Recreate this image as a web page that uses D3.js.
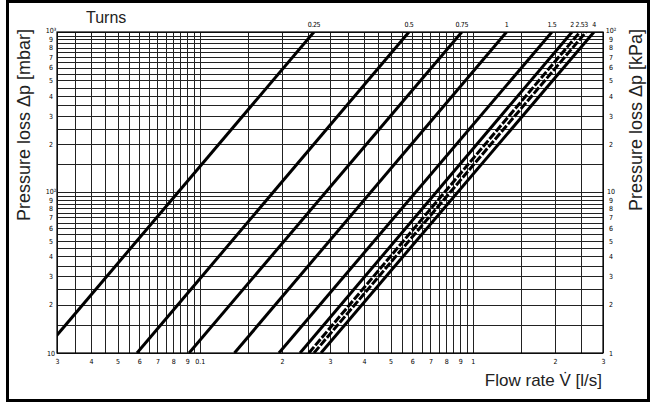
<!DOCTYPE html>
<html><head><meta charset="utf-8">
<script src="https://cdn.jsdelivr.net/npm/d3@7"></script>
<style>body{margin:0;background:#fff}</style>
</head><body>
<svg id="chart" width="651" height="403"></svg>
<script>
// ---- data ----
const turnLabels = ["0.25","0.5","0.75","1","1.5","2","2.5","3","4"];
const dashedTurns = ["2.5","3"];
const pressureEnds = [10, 1000]; // mbar, ends of each straight line
const flowAt10mbar   = [0.0264, 0.0589, 0.0914, 0.134, 0.195, 0.233, 0.251, 0.262, 0.278];
const flowAt1000mbar = [0.262, 0.584, 0.912, 1.33, 1.95, 2.31, 2.47, 2.60, 2.78];

const xTickValues = [0.03,0.04,0.05,0.06,0.07,0.08,0.09,0.1,0.2,0.3,0.4,0.5,0.6,0.7,0.8,0.9,1,2,3];
const xTickLabels = ["3","4","5","6","7","8","9","0.1","2","3","4","5","6","7","8","9","1","2","3"];
const yTickValues = [10,20,30,40,50,60,70,80,90,100,200,300,400,500,600,700,800,900,1000];
const yLeftLabels = ["10","2","3","4","5","6","7","8","9","10²","2","3","4","5","6","7","8","9","10³"];
const yRightLabels = ["1","2","3","4","5","6","7","8","9","10","2","3","4","5","6","7","8","9","10²"];
const gridMantissa = [1,1.5,2,2.5,3,3.5,4,4.5,5,5.5,6,6.5,7,7.5,8,8.5,9,9.5];

// ---- layout ----
const svg = d3.select("#chart");
const L = 57, R = 603, T = 32, B = 353;
const x = d3.scaleLog().domain([0.03, 3]).range([L, R]);
const y = d3.scaleLog().domain([10, 1000]).range([B, T]);

// frame
svg.append("rect").attr("x", 7.5).attr("y", 1.5).attr("width", 641).attr("height", 399)
  .attr("fill", "none").attr("stroke", "#000").attr("stroke-width", 3);

// grid
const xGrid = [];
[0.01, 0.1, 1].forEach(d => gridMantissa.forEach(m => {
  const v = +(m * d).toPrecision(3);
  if (v >= 0.03 - 1e-9 && v <= 3 + 1e-9) xGrid.push(v);
}));
const yGrid = [];
[10, 100].forEach(d => gridMantissa.forEach(m => yGrid.push(m * d)));
yGrid.push(1000);

const grid = svg.append("g").attr("stroke", "#222").attr("stroke-width", 1).attr("shape-rendering", "crispEdges");
grid.selectAll("line.v").data(xGrid).join("line").attr("class", "v")
  .attr("x1", d => Math.round(x(d)) + 0.5).attr("x2", d => Math.round(x(d)) + 0.5)
  .attr("y1", T).attr("y2", B);
grid.selectAll("line.h").data(yGrid).join("line").attr("class", "h")
  .attr("x1", L).attr("x2", R)
  .attr("y1", d => Math.round(y(d)) + 0.5).attr("y2", d => Math.round(y(d)) + 0.5);
svg.append("rect").attr("x", L).attr("y", T).attr("width", R - L).attr("height", B - T)
  .attr("fill", "none").attr("stroke", "#000").attr("stroke-width", 1.2);

// clip
svg.append("clipPath").attr("id", "clip").append("rect")
  .attr("x", L).attr("y", T).attr("width", R - L).attr("height", B - T);

// curves
const line = d3.line().x(d => x(d[0])).y(d => y(d[1]));
const series = turnLabels.map((t, i) => ({
  turn: t,
  pts: [[flowAt10mbar[i], pressureEnds[0]], [flowAt1000mbar[i], pressureEnds[1]]]
}));
svg.append("g").attr("clip-path", "url(#clip)")
  .selectAll("path").data(series).join("path")
  .attr("d", d => line(d.pts))
  .attr("fill", "none").attr("stroke", "#000")
  .attr("stroke-width", 3)
  .attr("stroke-dasharray", d => dashedTurns.includes(d.turn) ? "8,2" : null);

// turn labels
const tickFont = "'DejaVu Sans Condensed', 'Liberation Sans Narrow', sans-serif";
svg.append("g").selectAll("text").data(series).join("text")
  .attr("x", d => x(d.pts[1][0])).attr("y", 27)
  .attr("text-anchor", "middle")
  .attr("font-family", tickFont).attr("font-size", 7)
  .attr("letter-spacing", -0.4)
  .text(d => d.turn);

// axes
function styleAxis(g) {
  g.select(".domain").remove();
  g.selectAll("text").attr("font-family", tickFont).attr("font-size", 7).attr("fill", "#000");
}
svg.append("g").attr("transform", `translate(0,${B})`)
  .call(d3.axisBottom(x).tickValues(xTickValues).tickFormat((d, i) => xTickLabels[i]).tickSize(0).tickPadding(6))
  .call(styleAxis);
svg.append("g").attr("transform", `translate(${L},0)`)
  .call(d3.axisLeft(y).tickValues(yTickValues).tickFormat((d, i) => yLeftLabels[i]).tickSize(0).tickPadding(10))
  .call(styleAxis)
  .selectAll("text").attr("text-anchor", "middle").attr("dx", 4)
  .attr("dy", (d, i) => (i === 9 || i === 18) ? "0.1em" : "0.32em");
svg.append("g").attr("transform", `translate(${R},0)`)
  .call(d3.axisRight(y).tickValues(yTickValues).tickFormat((d, i) => yRightLabels[i]).tickSize(0).tickPadding(3))
  .call(styleAxis)
  .selectAll("text").attr("text-anchor", "middle").attr("dx", 5)
  .attr("dy", (d, i) => (i === 9 || i === 18) ? "0.1em" : "0.32em");

// titles
const titleFont = "'Liberation Sans', Arial, sans-serif";
svg.append("text").attr("x", 86).attr("y", 23).attr("font-family", titleFont)
  .attr("font-size", 16).attr("fill", "#222").text("Turns");
svg.append("text").attr("transform", "translate(30,125) rotate(-90)")
  .attr("text-anchor", "middle").attr("font-family", titleFont).attr("font-size", 18)
  .attr("fill", "#222").text("Pressure loss Δp [mbar]");
svg.append("text").attr("transform", "translate(642,120) rotate(-90)")
  .attr("text-anchor", "middle").attr("font-family", titleFont).attr("font-size", 18)
  .attr("fill", "#222").text("Pressure loss Δp [kPa]");
svg.append("text").attr("x", 602).attr("y", 386).attr("text-anchor", "end")
  .attr("font-family", titleFont).attr("font-size", 17).attr("fill", "#222")
  .text("Flow rate V̇ [l/s]");
</script>
</body></html>
